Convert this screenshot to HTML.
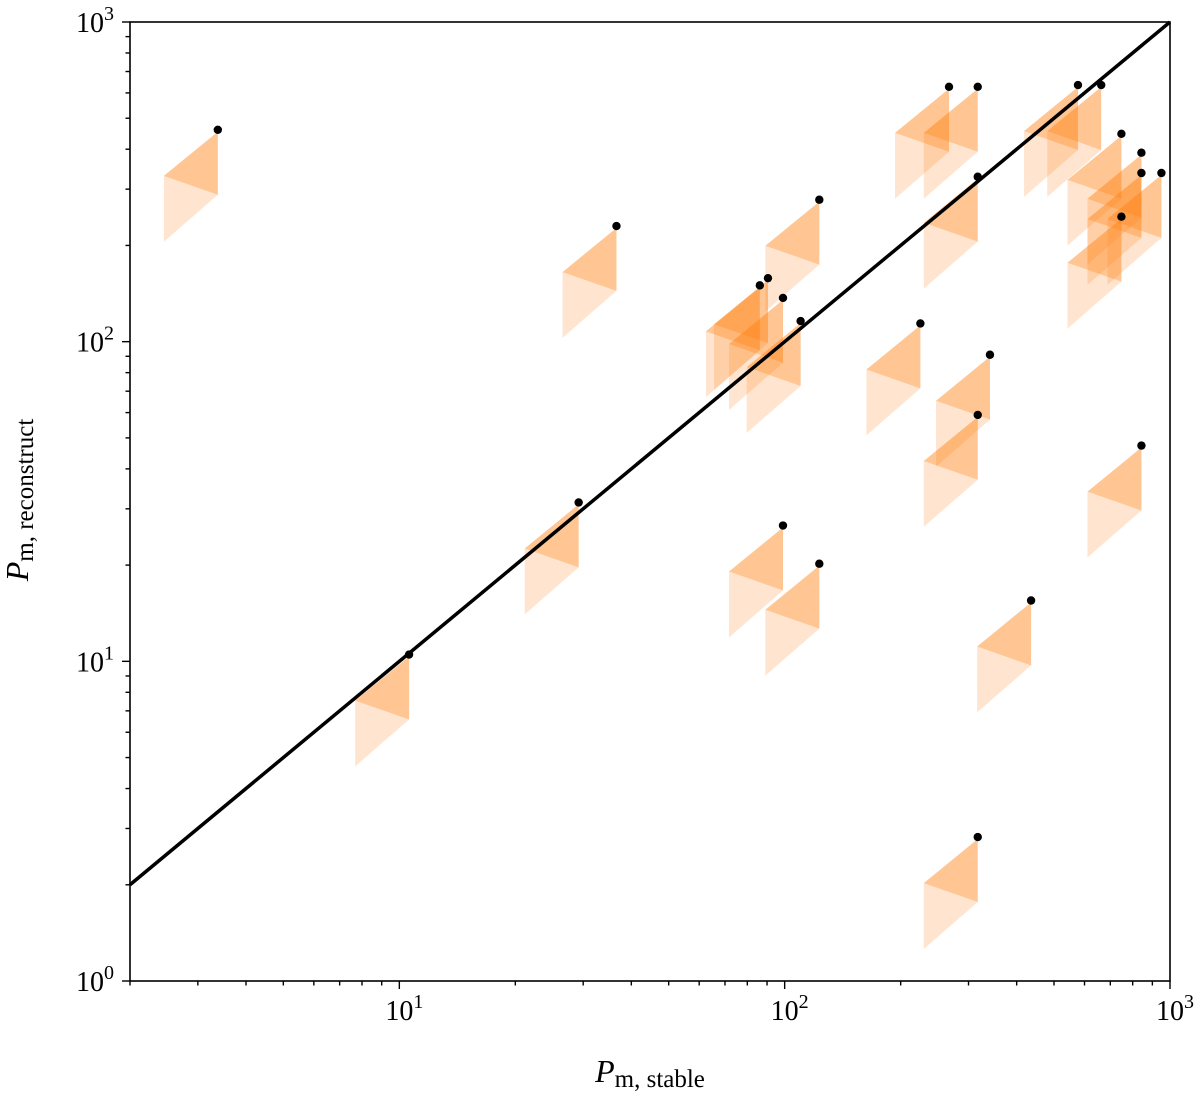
<!DOCTYPE html>
<html><head><meta charset="utf-8"><style>
body{margin:0;background:#fff;}
svg text{font-family:"Liberation Serif",serif;fill:#000;}
</style></head><body>
<svg id="chart" width="1200" height="1099" xmlns="http://www.w3.org/2000/svg">
<g id="marks"></g>
<line id="diag" stroke="#000" stroke-width="3.5"/>
<g id="dots"></g>
<rect x="130" y="22" width="1040" height="959" fill="none" stroke="#000" stroke-width="1.6"/>
<g id="axes"></g>
<text x="650" y="1082" font-size="32" text-anchor="middle"><tspan font-style="italic">P</tspan><tspan font-size="25" dy="5">m, stable</tspan></text>
<text transform="translate(28,500) rotate(-90)" font-size="32" text-anchor="middle"><tspan font-style="italic">P</tspan><tspan font-size="25" dy="5">m, reconstruct</tspan></text>
</svg>
<script>
const xStable=[3.38,36.6,29.2,10.6,86.2,90.5,99.0,110,123,99.0,123,225,341,317,267,317,317,577,663,748,843,843,950,748,843,436,317];
const yReconstruct=[460,230,31.4,10.5,150,158,137,116,278,26.6,20.2,114,91,59,627,627,328,635,635,447,390,337,337,246,47.3,15.5,2.82];
const xTicks=[1,2,3];
const yTicks=[0,1,2,3];
const X0=130,X1=1170,Y0=981,Y1=22;
const lx0=Math.log10(2),lx1=3,ly0=0,ly1=3;
const sx=v=>X0+(Math.log10(v)-lx0)/(lx1-lx0)*(X1-X0);
const sy=v=>Y0-(Math.log10(v)-ly0)/(ly1-ly0)*(Y0-Y1);
const NS="http://www.w3.org/2000/svg";
const mk=(t,a,p)=>{const e=document.createElementNS(NS,t);for(const k in a)e.setAttribute(k,a[k]);p.appendChild(e);return e;};
const marks=document.getElementById('marks'),dots=document.getElementById('dots'),axes=document.getElementById('axes');
const d=document.getElementById('diag');
d.setAttribute('x1',sx(2));d.setAttribute('y1',sy(2));d.setAttribute('x2',sx(1000));d.setAttribute('y2',sy(1000));
const DX=-0.14,DT=-0.006,DL=-0.144,DR=-0.203,DB=-0.35;
xStable.forEach((xv,i)=>{
  const yv=yReconstruct[i];
  const x=sx(xv),xl=sx(xv*Math.pow(10,DX));
  const yt=sy(yv*Math.pow(10,DT)),yl=sy(yv*Math.pow(10,DL)),yr=sy(yv*Math.pow(10,DR)),yb=sy(yv*Math.pow(10,DB));
  const lt=mk('polygon',{points:`${xl},${yl} ${x},${yr} ${xl},${yb}`,fill:'rgba(255,127,14,0.2)'},marks);
  
  
  const dk=mk('polygon',{points:`${x},${yt} ${xl},${yl} ${x},${yr}`,fill:'rgba(255,127,14,0.45)'},marks);
  
  
  const c=mk('circle',{cx:x,cy:sy(yv),r:4.2,fill:'#000'},dots);
  
  
});
for(let e=0;e<=3;e++){for(let m=1;m<10;m++){const v=m*Math.pow(10,e);
  if(v>=2&&v<=1000){const x=sx(v);const t=mk('line',{x1:x,x2:x,y1:Y0,y2:Y0+(m==1?8:4.5),stroke:'#000','stroke-width':1.4},axes);
    
    }
  if(v>=1&&v<=1000){const y=sy(v);const t=mk('line',{x1:X0,x2:X0-(m==1?8:4.5),y1:y,y2:y,stroke:'#000','stroke-width':1.4},axes);
    
    }
}}
xTicks.forEach(e=>{const t=mk('text',{x:sx(Math.pow(10,e))-14,y:1020,'font-size':28},axes);
  
  
  t.innerHTML='10<tspan font-size="20" dy="-12">'+e+'</tspan>';});
yTicks.forEach(e=>{const t=mk('text',{x:76,y:sy(Math.pow(10,e))+10,'font-size':28},axes);
  
  
  t.innerHTML='10<tspan font-size="20" dy="-12">'+e+'</tspan>';});
</script>
</body></html>
